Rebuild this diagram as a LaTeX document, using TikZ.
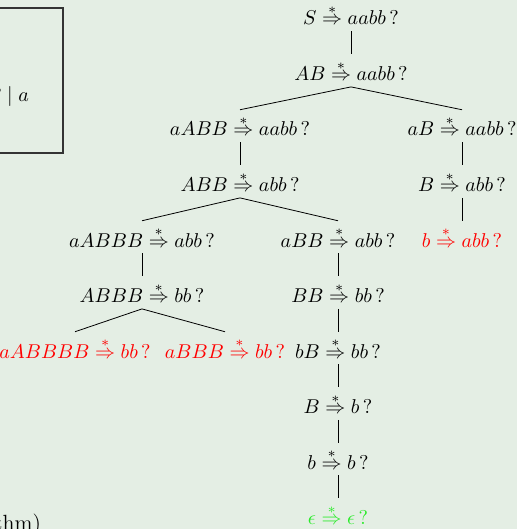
\documentclass[tikz,border=0pt]{standalone}
\usepackage{amsmath}
\definecolor{slidebg}{RGB}{228,238,228}
\definecolor{okgreen}{RGB}{40,235,40}
\newcommand{\goal}[2]{$#1 \overset{*}{\Rightarrow} #2\,?$}
\tikzset{
    state/.style={inner sep=3pt, anchor=base},
    fail/.style={state, text=red},
    accept/.style={state, text=okgreen},
    branch/.style={line width=0.4pt}
}

\begin{document}
\begin{tikzpicture}[x=0.5pt,y=-0.5pt]
    \fill[slidebg] (0,0) rectangle (517,529);
    \clip (0,0) rectangle (517,529);
    % grammar box, cut off on the left
    \draw[black!80, line width=0.6pt] (-150,8) rectangle (63,153);
    \node[anchor=base east] (rule1) at (2,30) {$S \to AB$};
    \node[anchor=base east] (rule2) at (36,102) {$A \to aAB \mid a$};
    \node[anchor=base east, font=\fontsize{11}{13}\selectfont] (caption) at (48,530) {(backtracking algorithm)};
    % search tree
    \node[state] (l0) at (351,25) {\goal{S}{aabb}};
    \node[state] (l1) at (351,80.5) {\goal{AB}{aabb}};
    \node[state] (l2a) at (240,136) {\goal{aABB}{aabb}};
    \node[state] (l2b) at (462,136) {\goal{aB}{aabb}};
    \node[state] (l3a) at (240,191.5) {\goal{ABB}{abb}};
    \node[state] (l3b) at (462,191.5) {\goal{B}{abb}};
    \node[state] (l4a) at (142,247) {\goal{aABBB}{abb}};
    \node[state] (l4b) at (338,247) {\goal{aBB}{abb}};
    \node[fail] (l4c) at (462,247) {\goal{b}{abb}};
    \node[state] (l5a) at (142,302.5) {\goal{ABBB}{bb}};
    \node[state] (l5b) at (338,302.5) {\goal{BB}{bb}};
    \node[fail] (l6a) at (75,358) {\goal{aABBBB}{bb}};
    \node[fail] (l6b) at (225,358) {\goal{aBBB}{bb}};
    \node[state] (l6c) at (338,358) {\goal{bB}{bb}};
    \node[state] (l7) at (338,413.5) {\goal{B}{b}};
    \node[state] (l8) at (338,469) {\goal{b}{b}};
    \node[accept] (l9) at (338,524.5) {\goal{\epsilon}{\epsilon}};
    \foreach \p/\c in {l0/l1, l1/l2a, l1/l2b, l2a/l3a, l2b/l3b, l3a/l4a, l3a/l4b,
        l3b/l4c, l4a/l5a, l4b/l5b, l5a/l6a, l5a/l6b, l5b/l6c, l6c/l7, l7/l8, l8/l9}
        \draw[branch] (\p.south) -- (\c.north);
\end{tikzpicture}
\end{document}
